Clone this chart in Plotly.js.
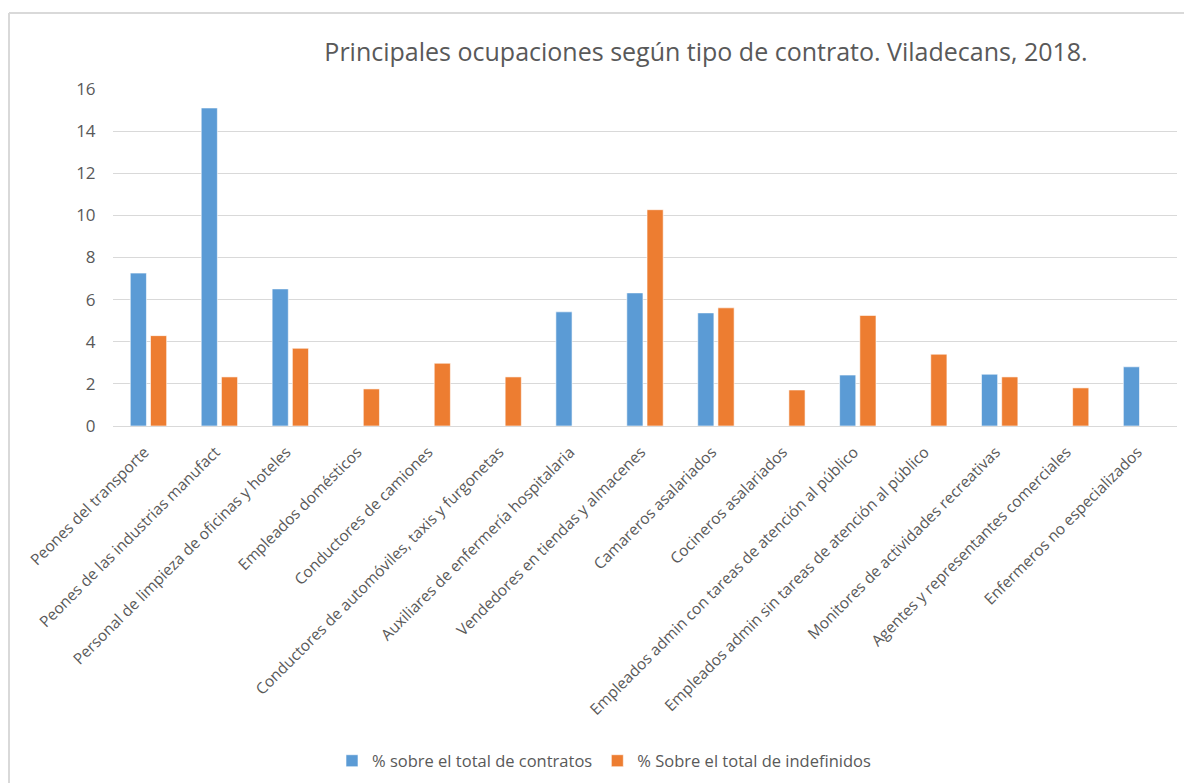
<!DOCTYPE html>
<html>
<head>
<meta charset="utf-8">
<script src="https://cdn.plot.ly/plotly-3.0.1.min.js"></script>
<style>html,body{margin:0;padding:0;background:#fff;}#chart{width:1184px;height:783px;}</style>
</head>
<body>
<div id="chart"></div>
<script>
const categories = [
  "Peones del transporte",
  "Peones de las industrias manufact",
  "Personal de limpieza de oficinas y hoteles",
  "Empleados domésticos",
  "Conductores de camiones",
  "Conductores de automóviles, taxis y furgonetas",
  "Auxiliares de enfermería hospitalaria",
  "Vendedores en tiendas y almacenes",
  "Camareros asalariados",
  "Cocineros asalariados",
  "Empleados admin con tareas de atención al público",
  "Empleados admin sin tareas de atención al público",
  "Monitores de actividades recreativas",
  "Agentes y representantes comerciales",
  "Enfermeros no especializados"
];
const pctContratos = [7.26, 15.10, 6.51, null, null, null, 5.42, 6.32, 5.37, null, 2.42, null, 2.46, null, 2.81];
const pctIndefinidos = [4.29, 2.33, 3.69, 1.76, 2.98, 2.33, null, 10.27, 5.61, 1.71, 5.25, 3.41, 2.33, 1.81, null];
const seriesNames = ["% sobre el total de contratos", "% Sobre el total de indefinidos"];
const yTicks = [0, 2, 4, 6, 8, 10, 12, 14, 16];

const W = 1184, H = 783;
const m = {l: 113, r: 7, t: 89, b: 357};
const pw = W - m.l - m.r, ph = H - m.t - m.b;
const px = x => (x - m.l) / pw;
const py = y => (H - m.b - y) / ph;

const font = "'Open Sans', 'Noto Sans', sans-serif";

const traces = [
  {type: 'bar', name: seriesNames[0], x: categories, y: pctContratos,
   marker: {color: '#5B9BD5', line: {color: '#FFFFFF', width: 0.6}}},
  {type: 'bar', name: seriesNames[1], x: categories, y: pctIndefinidos,
   marker: {color: '#ED7D31', line: {color: '#FFFFFF', width: 0.6}}}
];

const layout = {
  width: W, height: H,
  margin: m,
  paper_bgcolor: '#FFFFFF', plot_bgcolor: '#FFFFFF',
  font: {family: font, color: '#595959'},
  title: {text: 'Principales ocupaciones según tipo de contrato. Viladecans, 2018.',
          font: {family: font, size: 25, color: '#595959'},
          x: 706 / W, xanchor: 'center', xref: 'container',
          y: 1 - 52 / H, yanchor: 'middle', yref: 'container'},
  barmode: 'group', bargap: 0.43, bargroupgap: 0.2,
  showlegend: true,
  legend: {orientation: 'h', xref: 'container', yref: 'container',
           x: 604 / W, xanchor: 'center', y: 1 - 761 / H, yanchor: 'middle',
           font: {family: font, size: 16.5, color: '#595959'}, traceorder: 'normal'},
  xaxis: {type: 'category', tickangle: -45, tickfont: {family: font, size: 15.5, color: '#595959'},
          showgrid: false, showline: true, linecolor: '#D9D9D9', linewidth: 1,
          ticks: '', automargin: false, ticklabelstandoff: 10, ticklabelshift: -4},
  yaxis: {range: [0, 16], tickvals: yTicks, showgrid: true, gridcolor: '#D9D9D9', gridwidth: 1,
          zeroline: false, showline: false,
          ticks: 'outside', ticklen: 13, tickcolor: 'rgba(0,0,0,0)',
          tickfont: {family: font, size: 17, color: '#595959'}, automargin: false},
  shapes: [
    {type: 'line', xref: 'paper', yref: 'paper', x0: px(9), x1: px(9), y0: py(13), y1: py(H + 5),
     line: {color: '#D9D9D9', width: 2}},
    {type: 'line', xref: 'paper', yref: 'paper', x0: px(9), x1: px(W + 5), y0: py(13), y1: py(13),
     line: {color: '#D9D9D9', width: 2}}
  ]
};

Plotly.newPlot('chart', traces, layout, {displayModeBar: false, staticPlot: true});
</script>
</body>
</html>
